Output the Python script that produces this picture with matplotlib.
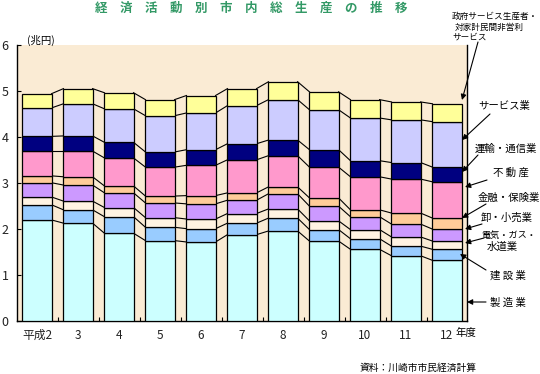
import matplotlib
matplotlib.use("Agg")
import matplotlib.pyplot as plt
import numpy as np

plt.rcParams['font.family'] = ['Noto Sans CJK JP', 'DejaVu Sans']

years = ['平成2', '3', '4', '5', '6', '7', '8', '9', '10', '11', '12']

manufacturing = [2.19, 2.12, 1.90, 1.74, 1.71, 1.87, 1.95, 1.73, 1.55, 1.41, 1.31]
construction  = [0.33, 0.29, 0.36, 0.29, 0.29, 0.25, 0.28, 0.25, 0.23, 0.21, 0.24]
utilities     = [0.17, 0.19, 0.20, 0.21, 0.21, 0.21, 0.20, 0.19, 0.20, 0.20, 0.18]
trade         = [0.31, 0.35, 0.32, 0.32, 0.33, 0.29, 0.33, 0.32, 0.28, 0.28, 0.26]
finance       = [0.15, 0.18, 0.15, 0.15, 0.18, 0.16, 0.15, 0.18, 0.15, 0.24, 0.24]
real_estate   = [0.54, 0.56, 0.61, 0.63, 0.66, 0.72, 0.68, 0.67, 0.72, 0.74, 0.79]
transport     = [0.32, 0.33, 0.34, 0.33, 0.34, 0.35, 0.34, 0.38, 0.35, 0.36, 0.32]
services      = [0.62, 0.70, 0.73, 0.79, 0.80, 0.83, 0.88, 0.87, 0.93, 0.93, 0.99]
government    = [0.31, 0.33, 0.35, 0.35, 0.38, 0.37, 0.39, 0.39, 0.40, 0.39, 0.39]

series = [manufacturing, construction, utilities, trade, finance,
          real_estate, transport, services, government]
colors = ['#CCFFFF', '#99CCFF', '#FFF3E2', '#CC99FF', '#FFCC99',
          '#FF99CC', '#000080', '#CCCCFF', '#FFFF99']

W, H = 540, 374
fig = plt.figure(figsize=(W / 100, H / 100), dpi=100)
fig.patch.set_facecolor('white')
ax = fig.add_axes([17 / W, 53.5 / H, (466.7 - 17) / W, 275.5 / H])
ax.set_facecolor('#FAEBD4')

x = np.arange(len(years))
bw = 0.71
bottom = np.zeros(len(years))
tops = []
for vals, c in zip(series, colors):
    v = np.array(vals)
    ax.bar(x, v, bw, bottom=bottom, color=c, edgecolor='black', linewidth=0.9, zorder=3)
    bottom = bottom + v
    tops.append(bottom.copy())

# series lines connecting bars
for t in tops:
    for i in range(len(x) - 1):
        ax.plot([x[i] + bw / 2, x[i + 1] - bw / 2], [t[i], t[i + 1]],
                color='black', lw=0.8, zorder=2)

ax.set_xlim(-0.488, 10.48)
ax.set_ylim(0, 6)
ax.set_yticks(range(0, 7))
ax.set_yticklabels([str(i) for i in range(7)], fontsize=9, color='#222222')
ax.tick_params(axis='y', direction='in', length=3, pad=6, width=0.8)
ax.set_xticks(x)
ax.set_xticklabels(years, fontsize=8.5, color='#222222')
ax.tick_params(axis='x', which='major', length=0, pad=6)
ax.set_xticks(np.arange(len(years) - 1) + 0.5, minor=True)
ax.tick_params(axis='x', which='minor', direction='in', length=3, width=0.8)
for s in ['left', 'bottom', 'right']:
    ax.spines[s].set_linewidth(1.0)
    ax.spines[s].set_color('black')
ax.spines['top'].set_visible(False)

# title
title = '経済活動別市内総生産の推移'
fig.text(251.5 / W, 1 - 8 / H, '\u3000'.join(title), ha='center', va='center',
         fontsize=9, fontweight='bold', color='#339966')

fig.text(41 / W, 1 - 40 / H, '(兆円)', ha='center', va='center', fontsize=7.5)
fig.text(466 / W, 1 - 333 / H, '年度', ha='center', va='center', fontsize=7.5)
fig.text(477 / W, 1 - 368 / H, '資料：川崎市市民経済計算', ha='right', va='center', fontsize=7)

def fp(px, py):
    return (px, H - py)

arrow = dict(arrowstyle='-|>', color='black', lw=0.8, mutation_scale=8, shrinkA=0, shrinkB=0)

fig.text(452 / W, 1 - 16 / H, '政府サービス生産者・', ha='left', va='center', fontsize=6.2)
fig.text(455 / W, 1 - 27 / H, '対家計民間非営利', ha='left', va='center', fontsize=6.2)
fig.text(452 / W, 1 - 37 / H, 'サービス', ha='left', va='center', fontsize=6.2)
ax.annotate('', xy=fp(462, 100), xycoords='figure pixels', xytext=fp(478, 42),
            textcoords='figure pixels', arrowprops=arrow)

labels = [
    ('サービス業', 478, 106, 7.5, (490, 114), (462, 140)),
    ('運輸・通信業', 475, 149, 7.5, (478, 155), (462, 172)),
    ('不 動 産', 493, 173, 7.5, (487, 180), (465, 187)),
    ('金融・保険業', 478, 198, 7.5, (486, 204), (462, 218)),
    ('卸・小売業', 481, 218, 7.5, (482, 224), (465, 229)),
    ('電気・ガス・', 481, 235, 6.6, (484, 238), (465, 243)),
    ('水道業', 487, 247, 7.5, None, None),
    ('建 設 業', 490, 276, 7.5, (486, 270), (460, 254)),
    ('製 造 業', 490, 303, 7.5, (486, 302), (467, 302)),
]
for txt, tx, ty, fs, a0, a1 in labels:
    fig.text(tx / W, 1 - ty / H, txt, ha='left', va='center', fontsize=fs)
    if a0 is not None:
        ax.annotate('', xy=fp(*a1), xycoords='figure pixels', xytext=fp(*a0),
                    textcoords='figure pixels', arrowprops=arrow)

fig.savefig('out.png', dpi=100)
